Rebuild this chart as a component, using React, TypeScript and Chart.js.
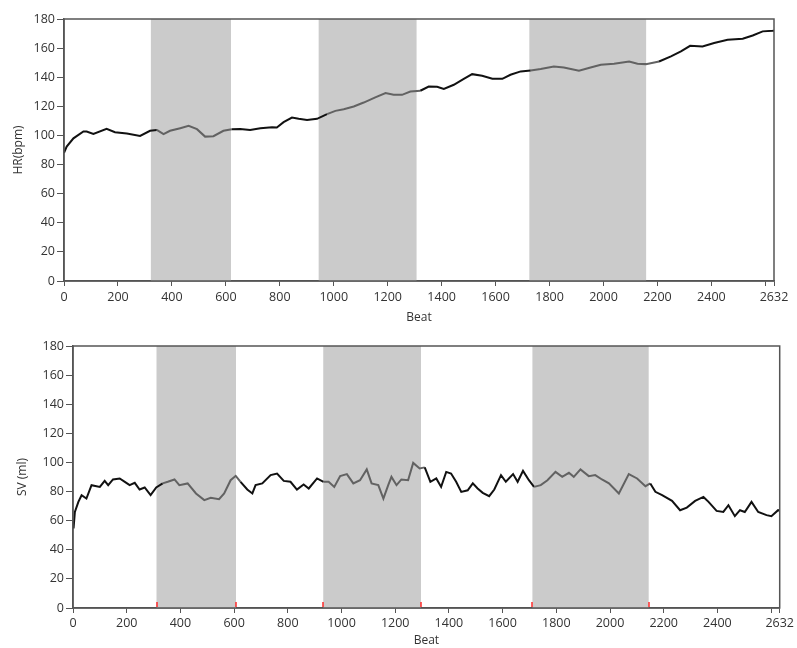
import React, { useEffect, useRef } from 'react';
import { Chart, registerables } from 'chart.js';

Chart.register(...registerables);

// ---- Data ----
const hrBeats = [0, 10, 35, 72, 84, 109, 158, 189, 233, 282, 319, 344, 369, 393, 431, 462, 493, 523, 554, 591, 622, 653, 690, 728, 771, 789, 814, 845, 870, 901, 938, 975, 1006, 1037, 1074, 1111, 1154, 1192, 1222, 1253, 1284, 1321, 1352, 1383, 1408, 1445, 1482, 1513, 1550, 1588, 1625, 1655, 1693, 1730, 1767, 1816, 1853, 1909, 1952, 1990, 2039, 2095, 2126, 2157, 2206, 2250, 2287, 2321, 2367, 2410, 2460, 2516, 2553, 2590, 2627, 2632];
const hrValues = [88, 92.4, 98, 102.7, 102.7, 101, 104.5, 102.2, 101.3, 99.7, 103.2, 103.8, 100.9, 103.2, 105, 106.6, 104.3, 99.2, 99.5, 103.2, 104.3, 104.5, 103.8, 105, 105.7, 105.4, 109.1, 112.3, 111.4, 110.7, 111.4, 114.6, 116.9, 118, 119.9, 122.6, 126.1, 129.1, 127.9, 127.9, 130.2, 130.7, 133.6, 133.4, 132, 134.8, 138.9, 142.1, 141, 138.9, 138.9, 141.7, 144, 144.6, 145.6, 147.4, 146.7, 144.4, 146.7, 148.6, 149.2, 150.8, 149.2, 149, 150.8, 154.3, 157.7, 161.6, 161.1, 163.5, 165.7, 166.4, 168.7, 171.5, 171.9, 172];

const svBeats = [0, 2, 7, 20, 32, 50, 69, 100, 118, 131, 149, 174, 193, 211, 230, 248, 267, 289, 310, 334, 353, 378, 396, 427, 458, 489, 513, 544, 563, 587, 606, 624, 649, 668, 680, 705, 736, 760, 785, 810, 834, 859, 878, 909, 933, 952, 973, 995, 1020, 1044, 1069, 1094, 1112, 1137, 1156, 1174, 1186, 1205, 1223, 1248, 1267, 1291, 1310, 1331, 1353, 1371, 1390, 1408, 1427, 1446, 1470, 1489, 1507, 1526, 1550, 1569, 1594, 1612, 1639, 1656, 1676, 1698, 1717, 1742, 1767, 1797, 1822, 1847, 1865, 1890, 1921, 1945, 1970, 1996, 2033, 2070, 2101, 2132, 2150, 2169, 2194, 2231, 2261, 2286, 2317, 2348, 2367, 2397, 2422, 2441, 2465, 2484, 2502, 2527, 2552, 2583, 2601, 2626, 2632];
const svValues = [58, 54.6, 66, 72.9, 77.5, 75.2, 84.4, 83.2, 87.3, 84.4, 88.3, 89, 86.7, 84.4, 86, 81.4, 82.8, 77.5, 82.8, 85.6, 86.7, 88.3, 84.4, 85.6, 78.7, 74.1, 75.7, 74.8, 78.7, 87.8, 90.8, 86.7, 81.4, 78.7, 84.4, 85.6, 91.3, 92.4, 87.3, 86.7, 81.4, 84.9, 82.1, 89, 86.7, 86.7, 83.2, 90.6, 92, 85.6, 87.8, 95.2, 85.6, 84.4, 75.2, 84.4, 90.1, 84.4, 88.3, 87.8, 99.7, 95.9, 96.6, 86.7, 89, 83.2, 93.5, 92.4, 86.7, 79.8, 80.9, 85.6, 82.1, 79.1, 76.8, 81.4, 91.3, 86.7, 92, 86.7, 94.2, 87.8, 83.2, 84.4, 87.8, 93.5, 90.1, 92.9, 90.1, 95.2, 90.6, 91.3, 88.3, 85.6, 78.7, 92, 89, 83.7, 85.6, 79.8, 77.5, 73.6, 67.2, 69, 73.6, 76.3, 72.9, 66.7, 66, 70.6, 63.1, 67.2, 66, 72.9, 66, 63.8, 63.1, 67.2, 67];

const hrShadeStart = [322, 944, 1725];
const hrShadeEnd = [619, 1307, 2158];
const svShadeStart = [311, 932, 1711];
const svShadeEnd = [607, 1296, 2144];

const xTickValues = [0, 200, 400, 600, 800, 1000, 1200, 1400, 1600, 1800, 2000, 2200, 2400, 2600, 2632];
const xHiddenLabels = [2600];
const yTickValues = [0, 20, 40, 60, 80, 100, 120, 140, 160, 180];

const FONT = '"Open Sans", "Noto Sans", sans-serif';

type PanelProps = {
  top: number;
  height: number;
  beats: number[];
  values: number[];
  shadeStart: number[];
  shadeEnd: number[];
  yTitle: string;
  padTop: number;
  padRight: number;
  yWidth: number;
  xHeight: number;
  yTitlePad: number;
  xTitlePad: number;
  xTickPad: number;
  markers: boolean;
};

const decorPlugin = {
  id: 'panelDecor',
  beforeDatasetsDraw(chart: any, _args: any, opts: any) {
    const { ctx, chartArea: a, scales } = chart;
    const x = scales.x;
    ctx.save();
    ctx.fillStyle = '#cbcbcb';
    opts.starts.forEach((s: number, i: number) => {
      const x0 = x.getPixelForValue(s);
      const x1 = x.getPixelForValue(opts.ends[i]);
      ctx.fillRect(x0, a.top, x1 - x0, a.bottom - a.top);
    });
    ctx.restore();
  },
  afterDatasetsDraw(chart: any, _args: any, opts: any) {
    const { ctx, chartArea: a, scales } = chart;
    const x = scales.x;
    ctx.save();
    ctx.strokeStyle = '#555';
    ctx.lineWidth = 1.5;
    ctx.strokeRect(a.left, a.top, a.right - a.left, a.bottom - a.top);
    if (opts.markers) {
      ctx.strokeStyle = '#ff2a2a';
      ctx.lineWidth = 1.5;
      const bounds = [...opts.starts, ...opts.ends];
      bounds.forEach((b: number) => {
        const px = Math.round(x.getPixelForValue(b));
        ctx.beginPath();
        ctx.moveTo(px, a.bottom - 1);
        ctx.lineTo(px, a.bottom - 6);
        ctx.stroke();
      });
    }
    ctx.restore();
  },
};

function Panel(p: PanelProps) {
  const ref = useRef<HTMLCanvasElement | null>(null);
  useEffect(() => {
    if (!ref.current) return;
    const inShade = (v: number) =>
      p.shadeStart.some((s, i) => v >= s && v < p.shadeEnd[i]);
    const data = p.beats.map((b, i) => ({ x: b, y: p.values[i] }));
    const tickFont = { family: FONT, size: 12.5 };
    const titleFont = { family: FONT, size: 12 };
    const chart = new Chart(ref.current, {
      type: 'line',
      data: {
        datasets: [
          {
            data,
            borderColor: '#111',
            borderWidth: 2,
            pointRadius: 0,
            tension: 0,
            segment: {
              borderColor: (ctx: any) => (inShade(ctx.p0.parsed.x) ? '#626262' : '#111'),
            },
          },
        ],
      },
      options: {
        animation: false,
        responsive: false,
        maintainAspectRatio: false,
        layout: { padding: { top: p.padTop, right: p.padRight, left: 0, bottom: 0 } },
        plugins: {
          legend: { display: false },
          tooltip: { enabled: false },
          panelDecor: { starts: p.shadeStart, ends: p.shadeEnd, markers: p.markers },
        } as any,
        scales: {
          x: {
            type: 'linear',
            min: 0,
            max: 2632,
            afterBuildTicks: (s: any) => {
              s.ticks = xTickValues.map((v) => ({ value: v }));
            },
            afterFit: (s: any) => {
              s.height = p.xHeight;
            },
            ticks: {
              autoSkip: false,
              maxRotation: 0,
              padding: p.xTickPad,
              color: '#333',
              font: tickFont,
              callback: (v: any) => (xHiddenLabels.includes(Number(v)) ? '' : String(v)),
            },
            grid: { drawOnChartArea: false, drawTicks: true, tickLength: 5, color: '#555' },
            border: { color: '#555', width: 1.5 },
            title: {
              display: true,
              text: 'Beat',
              color: '#333',
              font: titleFont,
              padding: { top: 0, bottom: p.xTitlePad },
            },
          },
          y: {
            type: 'linear',
            min: 0,
            max: 180,
            afterBuildTicks: (s: any) => {
              s.ticks = yTickValues.map((v) => ({ value: v }));
            },
            afterFit: (s: any) => {
              s.width = p.yWidth;
            },
            ticks: {
              padding: 2,
              color: '#333',
              font: tickFont,
              callback: (v: any) => String(v),
            },
            grid: { drawOnChartArea: false, drawTicks: true, tickLength: 7, color: '#555' },
            border: { color: '#555', width: 1.5 },
            title: {
              display: true,
              text: p.yTitle,
              color: '#333',
              font: titleFont,
              padding: { top: p.yTitlePad, bottom: 0 },
            },
          },
        },
      },
      plugins: [decorPlugin as any],
    });
    return () => chart.destroy();
  }, []);
  return (
    <canvas
      ref={ref}
      width={797}
      height={p.height}
      style={{ position: 'absolute', left: 0, top: p.top, width: 797, height: p.height }}
    />
  );
}

export default function App() {
  return (
    <div style={{ position: 'absolute', left: 0, top: 0, width: 797, height: 648, background: '#fff', overflow: 'hidden' }}>
      <Panel
        top={0}
        height={330}
        beats={hrBeats}
        values={hrValues}
        shadeStart={hrShadeStart}
        shadeEnd={hrShadeEnd}
        yTitle="HR(bpm)"
        padTop={19}
        padRight={23}
        yWidth={64}
        xHeight={49}
        yTitlePad={11}
        xTitlePad={5}
        xTickPad={4}
        markers={false}
      />
      <Panel
        top={330}
        height={318}
        beats={svBeats}
        values={svValues}
        shadeStart={svShadeStart}
        shadeEnd={svShadeEnd}
        yTitle="SV (ml)"
        padTop={16}
        padRight={14}
        yWidth={73}
        xHeight={40}
        yTitlePad={15}
        xTitlePad={0}
        xTickPad={3}
        markers={true}
      />
    </div>
  );
}
